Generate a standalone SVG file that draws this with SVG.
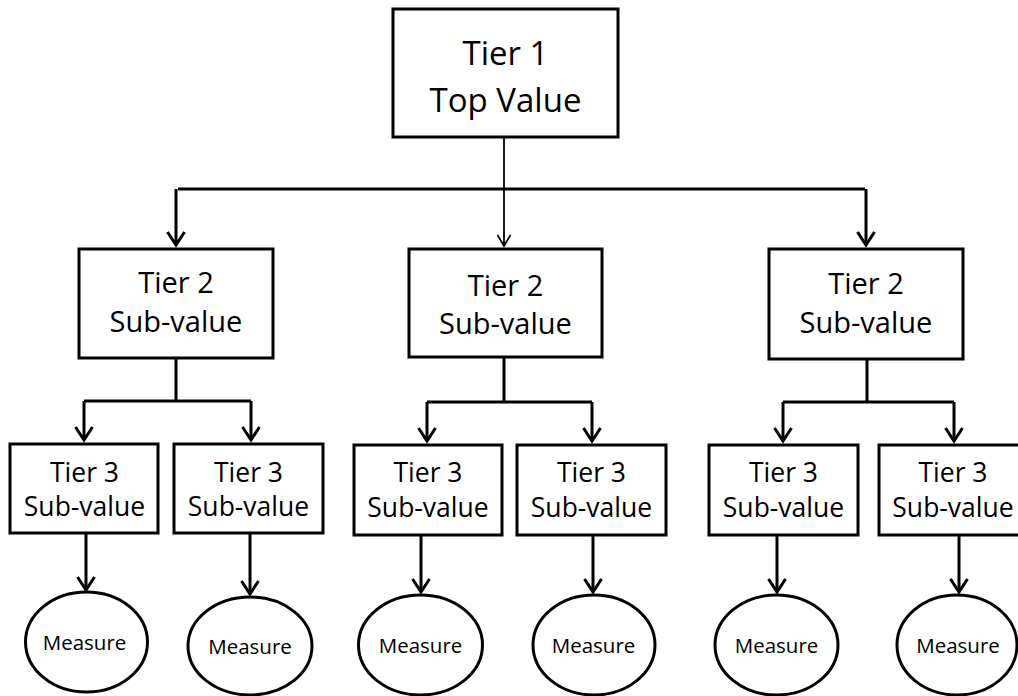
<svg xmlns="http://www.w3.org/2000/svg" width="1018" height="696" viewBox="0 0 1018 696">
<defs>
<style>
.box{fill:#fff;stroke:#000;stroke-width:3}
.ell{fill:#fff;stroke:#000;stroke-width:3}
.ln{fill:none;stroke:#000;stroke-width:3}
.thin{fill:none;stroke:#000;stroke-width:1.8}
text{font-family:"Open Sans","Noto Sans","Liberation Sans",sans-serif;fill:#000;text-anchor:middle}
.t1{font-size:33px}
.t2{font-size:29px}
.t3{font-size:26.5px}
.m{font-size:20.5px}
</style>
<marker id="ah" markerUnits="userSpaceOnUse" markerWidth="20" markerHeight="24" viewBox="-16 -12 20 24" refX="0" refY="0" orient="auto" overflow="visible">
<path d="M-13,-8.5 L0,0 L-13,8.5" fill="none" stroke="#000" stroke-width="3" stroke-linejoin="miter"/>
</marker>
<marker id="ahs" markerUnits="userSpaceOnUse" markerWidth="20" markerHeight="24" viewBox="-16 -12 20 24" refX="0" refY="0" orient="auto" overflow="visible">
<path d="M-11,-6.5 L0,0 L-11,6.5" fill="none" stroke="#000" stroke-width="1.8" stroke-linejoin="miter"/>
</marker>
</defs>
<g id="connectors">
<path class="ln" d="M178,189 H865"/>
<path class="ln" d="M176,189 V245" marker-end="url(#ah)"/>
<path class="thin" d="M504,137 V246" marker-end="url(#ahs)"/>
<path class="ln" d="M866,189 V245" marker-end="url(#ah)"/>
<path class="ln" d="M176,358 V401 M84,401 H251"/>
<path class="ln" d="M84,401 V440" marker-end="url(#ah)"/>
<path class="ln" d="M251,401 V440" marker-end="url(#ah)"/>
<path class="ln" d="M504,357 V402 M427,402 H592"/>
<path class="ln" d="M427,402 V441" marker-end="url(#ah)"/>
<path class="ln" d="M592,402 V441" marker-end="url(#ah)"/>
<path class="ln" d="M867,359 V402 M783,402 H954"/>
<path class="ln" d="M783,402 V441" marker-end="url(#ah)"/>
<path class="ln" d="M954,402 V441" marker-end="url(#ah)"/>
<path class="ln" d="M86,533 V590" marker-end="url(#ah)"/>
<path class="ln" d="M250,533 V594" marker-end="url(#ah)"/>
<path class="ln" d="M421,535 V592" marker-end="url(#ah)"/>
<path class="ln" d="M593,535 V592" marker-end="url(#ah)"/>
<path class="ln" d="M777,535 V592" marker-end="url(#ah)"/>
<path class="ln" d="M959,535 V592" marker-end="url(#ah)"/>
</g>
<g id="tier1">
<rect class="box" x="393" y="9" width="225" height="128"/>
<text class="t1" x="505.5" y="65">Tier 1</text>
<text class="t1" x="505.5" y="112">Top Value</text>
</g>
<g id="tier2-left">
<rect class="box" x="79" y="249" width="194" height="109"/>
<text class="t2" x="176" y="293">Tier 2</text>
<text class="t2" x="176" y="332">Sub-value</text>
</g>
<g id="tier2-mid">
<rect class="box" x="409" y="249" width="193" height="108"/>
<text class="t2" x="505.5" y="296">Tier 2</text>
<text class="t2" x="505.5" y="334">Sub-value</text>
</g>
<g id="tier2-right">
<rect class="box" x="769" y="249" width="194" height="110"/>
<text class="t2" x="866" y="294">Tier 2</text>
<text class="t2" x="866" y="333">Sub-value</text>
</g>
<g id="tier3-1">
<rect class="box" x="10" y="444" width="148" height="89"/>
<text class="t3" x="84.5" y="482">Tier 3</text>
<text class="t3" x="84.5" y="516">Sub-value</text>
</g>
<g id="tier3-2">
<rect class="box" x="174" y="444" width="149" height="89"/>
<text class="t3" x="248.5" y="482">Tier 3</text>
<text class="t3" x="248.5" y="516">Sub-value</text>
</g>
<g id="tier3-3">
<rect class="box" x="354" y="445" width="148" height="90"/>
<text class="t3" x="428" y="482">Tier 3</text>
<text class="t3" x="428" y="517">Sub-value</text>
</g>
<g id="tier3-4">
<rect class="box" x="517" y="445" width="149" height="90"/>
<text class="t3" x="591.5" y="482">Tier 3</text>
<text class="t3" x="591.5" y="517">Sub-value</text>
</g>
<g id="tier3-5">
<rect class="box" x="709" y="445" width="149" height="90"/>
<text class="t3" x="783.5" y="482">Tier 3</text>
<text class="t3" x="783.5" y="517">Sub-value</text>
</g>
<g id="tier3-6">
<rect class="box" x="879" y="445" width="150" height="90"/>
<text class="t3" x="953" y="482">Tier 3</text>
<text class="t3" x="953" y="517">Sub-value</text>
</g>
<g id="measure-1">
<ellipse class="ell" cx="86.5" cy="642" rx="61" ry="50"/>
<text class="m" x="84.5" y="650">Measure</text>
</g>
<g id="measure-2">
<ellipse class="ell" cx="250" cy="646" rx="62" ry="49"/>
<text class="m" x="250" y="654">Measure</text>
</g>
<g id="measure-3">
<ellipse class="ell" cx="420.5" cy="645" rx="62" ry="50"/>
<text class="m" x="420.5" y="653">Measure</text>
</g>
<g id="measure-4">
<ellipse class="ell" cx="594" cy="645" rx="61" ry="50"/>
<text class="m" x="593.5" y="653">Measure</text>
</g>
<g id="measure-5">
<ellipse class="ell" cx="776.5" cy="645" rx="61.5" ry="50"/>
<text class="m" x="776.5" y="653">Measure</text>
</g>
<g id="measure-6">
<ellipse class="ell" cx="957" cy="645" rx="60" ry="50"/>
<text class="m" x="958" y="653">Measure</text>
</g>
</svg>
